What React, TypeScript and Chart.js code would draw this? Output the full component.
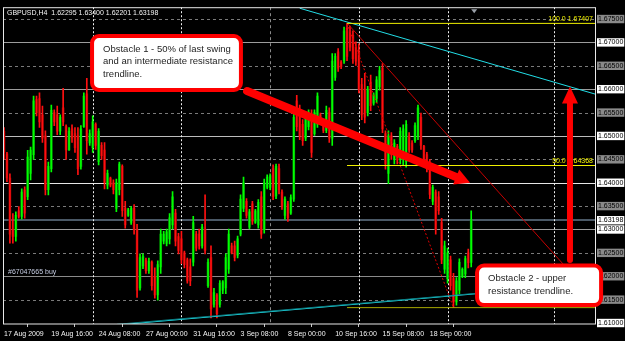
import React, { useEffect, useRef } from 'react';
import { Chart, registerables } from 'chart.js';

Chart.register(...registerables);

// ---------- DATA ----------
const symbolName = 'GBPUSD,H4';

const candleOpen = [
  1.6510, 1.6462, 1.6410, 1.6300, 1.6285, 1.6340, 1.6328, 1.6385, 1.6370, 1.6420,
  1.6460, 1.6578, 1.6580, 1.6545, 1.6500, 1.6385, 1.6430, 1.6550, 1.6545, 1.6510,
  1.6560, 1.6520, 1.6470, 1.6515, 1.6505, 1.6500, 1.6435, 1.6520, 1.6590, 1.6485,
  1.6475, 1.6525, 1.6445, 1.6480, 1.6470, 1.6395, 1.6410, 1.6400, 1.6345, 1.6385,
  1.6435, 1.6345, 1.6330, 1.6315, 1.6345, 1.6300, 1.6175, 1.6222, 1.6235, 1.6212,
  1.6230, 1.6200, 1.6160, 1.6220, 1.6275, 1.6270, 1.6280, 1.6310, 1.6335, 1.6285,
  1.6280, 1.6250, 1.6235, 1.6220, 1.6230, 1.6290, 1.6290, 1.6265, 1.6300, 1.6180,
  1.6240, 1.6140, 1.6160, 1.6140, 1.6170, 1.6175, 1.6215, 1.6265, 1.6265, 1.6245,
  1.6290, 1.6345, 1.6360, 1.6305, 1.6355, 1.6315, 1.6310, 1.6370, 1.6300, 1.6390,
  1.6390, 1.6430, 1.6372, 1.6430, 1.6380, 1.6330, 1.6355, 1.6335, 1.6365, 1.6575,
  1.6545, 1.6525, 1.6495, 1.6520, 1.6545, 1.6505, 1.6525, 1.6545, 1.6530, 1.6512,
  1.6550, 1.6495, 1.6625, 1.6680, 1.6658, 1.6660, 1.6730, 1.6725, 1.6715, 1.6690,
  1.6680, 1.6610, 1.6600, 1.6550, 1.6615, 1.6570, 1.6580, 1.6605, 1.6645, 1.6505,
  1.6420, 1.6500, 1.6450, 1.6478, 1.6450, 1.6450, 1.6445, 1.6500, 1.6485, 1.6490,
  1.6500, 1.6540, 1.6478, 1.6460, 1.6440, 1.6360, 1.6380, 1.6370, 1.6315, 1.6215,
  1.6195, 1.6235, 1.6195, 1.6145, 1.6170, 1.6200, 1.6205, 1.6250, 1.62295,
];

const candleHigh = [
  1.6518, 1.6465, 1.6419, 1.6334, 1.6338, 1.6349, 1.6387, 1.6391, 1.6469, 1.6476,
  1.6585, 1.6585, 1.6592, 1.6564, 1.6511, 1.6444, 1.6566, 1.6556, 1.6564, 1.6545,
  1.6602, 1.6524, 1.6518, 1.6524, 1.6518, 1.6518, 1.6522, 1.6592, 1.6623, 1.6513,
  1.6543, 1.6528, 1.6516, 1.6486, 1.6486, 1.6427, 1.6412, 1.6406, 1.6408, 1.6444,
  1.6438, 1.6360, 1.6345, 1.6349, 1.6353, 1.6311, 1.6248, 1.6248, 1.6239, 1.6239,
  1.6233, 1.6218, 1.6233, 1.6301, 1.6296, 1.6301, 1.6334, 1.6381, 1.6343, 1.6292,
  1.6296, 1.6254, 1.6239, 1.6237, 1.6328, 1.6296, 1.6301, 1.6311, 1.6374, 1.6237,
  1.6265, 1.6174, 1.6163, 1.6191, 1.6191, 1.6248, 1.6301, 1.6271, 1.6275, 1.6286,
  1.6374, 1.6412, 1.6366, 1.6343, 1.6360, 1.6343, 1.6364, 1.6381, 1.6408, 1.6417,
  1.6419, 1.6438, 1.6440, 1.6440, 1.6385, 1.6370, 1.6360, 1.6374, 1.6549, 1.6587,
  1.6566, 1.6535, 1.6549, 1.6556, 1.6556, 1.6556, 1.6592, 1.6549, 1.6535, 1.6564,
  1.6560, 1.6676, 1.6676, 1.6687, 1.6661, 1.6733, 1.67407, 1.6735, 1.6725, 1.6701,
  1.6697, 1.6623, 1.6634, 1.6606, 1.6630, 1.6592, 1.6627, 1.6649, 1.6655, 1.6511,
  1.6511, 1.6507, 1.6492, 1.6482, 1.6518, 1.6524, 1.6533, 1.6507, 1.6490, 1.6528,
  1.6566, 1.6549, 1.6480, 1.6465, 1.6450, 1.6395, 1.6385, 1.6381, 1.6324, 1.6275,
  1.6260, 1.6243, 1.6206, 1.6197, 1.6237, 1.6218, 1.6243, 1.6258, 1.63400,
];

const candleLow = [
  1.6450, 1.6402, 1.6271, 1.6271, 1.6275, 1.6324, 1.6322, 1.6324, 1.6364, 1.6406,
  1.6450, 1.6543, 1.6518, 1.6486, 1.6374, 1.6374, 1.6423, 1.6522, 1.6503, 1.6503,
  1.6522, 1.6450, 1.6469, 1.6486, 1.6465, 1.6417, 1.6429, 1.6518, 1.6461, 1.6480,
  1.6465, 1.6471, 1.6438, 1.6450, 1.6387, 1.6387, 1.6391, 1.6376, 1.6338, 1.6374,
  1.6328, 1.6303, 1.6328, 1.6311, 1.6290, 1.6155, 1.6170, 1.6216, 1.6206, 1.6206,
  1.6170, 1.6153, 1.6149, 1.6206, 1.6269, 1.6265, 1.6269, 1.6301, 1.6265, 1.6248,
  1.6227, 1.6218, 1.6185, 1.6180, 1.6222, 1.6254, 1.6258, 1.6260, 1.6248, 1.6176,
  1.6111, 1.6134, 1.6111, 1.6134, 1.6163, 1.6163, 1.6206, 1.6248, 1.6233, 1.6239,
  1.6286, 1.6338, 1.6324, 1.6301, 1.6311, 1.6313, 1.6303, 1.6281, 1.6292, 1.6387,
  1.6385, 1.6364, 1.6366, 1.6376, 1.6343, 1.6322, 1.6317, 1.6332, 1.6360, 1.6511,
  1.6492, 1.6480, 1.6490, 1.6513, 1.6454, 1.6501, 1.6518, 1.6528, 1.6507, 1.6507,
  1.6486, 1.6480, 1.6619, 1.6638, 1.6644, 1.6655, 1.6661, 1.6682, 1.6655, 1.6651,
  1.6592, 1.6535, 1.6528, 1.6543, 1.6554, 1.6566, 1.6571, 1.6598, 1.6507, 1.6429,
  1.6398, 1.6450, 1.6440, 1.6440, 1.6440, 1.6438, 1.6433, 1.6465, 1.6465, 1.6486,
  1.6492, 1.6471, 1.6444, 1.6423, 1.6366, 1.6353, 1.6290, 1.6332, 1.6227, 1.6206,
  1.6185, 1.6170, 1.61329, 1.6138, 1.6163, 1.6197, 1.6197, 1.6218, 1.62201,
];

const candleClose = [
  1.6465, 1.6410, 1.6290, 1.6285, 1.6330, 1.6328, 1.6380, 1.6335, 1.6455, 1.6470,
  1.6575, 1.6550, 1.6530, 1.6495, 1.6385, 1.6435, 1.6555, 1.6530, 1.6510, 1.6540,
  1.6530, 1.6470, 1.6510, 1.6495, 1.6475, 1.6430, 1.6515, 1.6585, 1.6490, 1.6505,
  1.6530, 1.6480, 1.6510, 1.6458, 1.6400, 1.6420, 1.6395, 1.6385, 1.6400, 1.6440,
  1.6340, 1.6310, 1.6342, 1.6345, 1.6300, 1.6170, 1.6240, 1.6242, 1.6212, 1.6232,
  1.6180, 1.6160, 1.6225, 1.6290, 1.6290, 1.6295, 1.6325, 1.6370, 1.6275, 1.6255,
  1.6235, 1.6225, 1.6190, 1.6190, 1.6315, 1.6260, 1.6265, 1.6305, 1.6255, 1.6230,
  1.6130, 1.6165, 1.6120, 1.6185, 1.6188, 1.6240, 1.6290, 1.6250, 1.6240, 1.6280,
  1.6365, 1.6400, 1.6330, 1.6338, 1.6318, 1.6340, 1.6358, 1.6290, 1.6400, 1.6412,
  1.6415, 1.6370, 1.6435, 1.6385, 1.6350, 1.6365, 1.6325, 1.6368, 1.6540, 1.6520,
  1.6500, 1.6490, 1.6540, 1.6550, 1.6465, 1.6550, 1.6585, 1.6532, 1.6512, 1.6555,
  1.6495, 1.6660, 1.6670, 1.6645, 1.6648, 1.6725, 1.6670, 1.6690, 1.6665, 1.6660,
  1.6600, 1.6545, 1.6540, 1.6600, 1.6565, 1.6588, 1.6620, 1.6640, 1.6515, 1.6440,
  1.6500, 1.6460, 1.6485, 1.6450, 1.6510, 1.6515, 1.6525, 1.6470, 1.6470, 1.6522,
  1.6560, 1.6480, 1.6450, 1.6430, 1.6375, 1.6390, 1.6300, 1.6340, 1.6235, 1.6265,
  1.6250, 1.6180, 1.6145, 1.6190, 1.6230, 1.6215, 1.6238, 1.6229, 1.63198,
];

// time axis labels (one every 16 H4 bars)
const timeLabels = [
  '17 Aug 2009', '19 Aug 16:00', '24 Aug 08:00', '27 Aug 00:00', '31 Aug 16:00',
  '3 Sep 08:00', '8 Sep 00:00', '10 Sep 16:00', '15 Sep 08:00', '18 Sep 00:00',
];
const timeLabelBars = [0, 16, 32, 48, 64, 80, 96, 112, 128, 144];

// price axis
const priceTicks = [
  1.610, 1.615, 1.620, 1.625, 1.630, 1.635, 1.640, 1.645,
  1.650, 1.655, 1.660, 1.665, 1.670, 1.675,
];
const bidPrice = 1.63198;

// horizontal level lines and their style keys
const levelPrices = [1.675, 1.670, 1.665, 1.660, 1.655, 1.650, 1.645, 1.640, 1.635, 1.630, 1.625, 1.620, 1.615];
const levelKinds = ['dash', 'grey', 'dash', 'grey', 'dash', 'light', 'dash', 'white', 'dash', 'grey', 'dash', 'dim', 'dash'];

// vertical (week separator) lines
const weekBars = [30, 60, 90, 120, 150, 186];
const weekKinds = ['dot', 'dot', 'dash', 'dot', 'dot', 'dot'];

// Fibonacci retracement anchors
const fibBars = [116, 152];
const fibPrices = [1.67407, 1.61329];

// trend lines [bar, price]
const upperCyanBars = [100, 199.9];
const upperCyanPrices = [1.67731, 1.65895];
const lowerCyanBars = [38.2, 161];
const lowerCyanPrices = [1.60958, 1.61633];
const lowerTealBars = [38.2, 161];
const lowerTealPrices = [1.60972, 1.61642];
const redTrendBars = [116.3, 189];
const redTrendPrices = [1.67393, 1.62266];

// annotations
const note1Lines = ['Obstacle 1 - 50% of last swing', 'and an intermediate resistance', 'trendline.'];
const note1Bars = [29.1, 80.8];
const note1Prices = [1.6718, 1.6594];
const note2Lines = ['Obstacle 2 - upper', 'resistance trendline.'];
const note2Bars = [159.3, 202.6];
const note2Prices = [1.6227, 1.6134];
const arrow1Bars = [82.2, 157.6];
const arrow1Prices = [1.6596, 1.6400];
const arrow2Bars = [191.4, 191.4];
const arrow2Prices = [1.6235, 1.6606];
const orderLabel = '#67047665 buy';
const orderPrice = 1.6200;

// ---------- STYLE ----------
const X_MIN = -0.338;
const X_MAX = 199.86;
const Y_MIN = 1.60979;
const Y_MAX = 1.67753;
const SMALL = "'Liberation Sans', Arial, sans-serif";
const SMALL_SIZE = 7;
const SANS = "'Liberation Sans', Arial, sans-serif";

const LEVEL_STYLE: Record<string, { color: string; width: number; dash: number[] }> = {
  dash: { color: '#7a7a7a', width: 1, dash: [3, 3] },
  grey: { color: '#9c9c9c', width: 1, dash: [] },
  light: { color: '#bcbcbc', width: 1, dash: [] },
  white: { color: '#e6e6e6', width: 1, dash: [] },
  dim: { color: '#8a8a8a', width: 1, dash: [] },
};
const WEEK_STYLE: Record<string, { color: string; dash: number[] }> = {
  dot: { color: '#f0f0f0', dash: [2, 2] },
  dash: { color: '#8a8a8a', dash: [3, 3] },
};

const whiteLabelPrices = [1.670, 1.660, 1.650, 1.640, 1.630, 1.610, bidPrice];

function roundRectPath(ctx: CanvasRenderingContext2D, x: number, y: number, w: number, h: number, r: number) {
  ctx.beginPath();
  ctx.moveTo(x + r, y);
  ctx.arcTo(x + w, y, x + w, y + h, r);
  ctx.arcTo(x + w, y + h, x, y + h, r);
  ctx.arcTo(x, y + h, x, y, r);
  ctx.arcTo(x, y, x + w, y, r);
  ctx.closePath();
}

function drawArrow(ctx: CanvasRenderingContext2D, x0: number, y0: number, x1: number, y1: number,
  shaft: number, headLen: number, headHalf: number, color: string) {
  const dx = x1 - x0, dy = y1 - y0;
  const len = Math.hypot(dx, dy);
  const ux = dx / len, uy = dy / len;
  const bx = x1 - ux * headLen, by = y1 - uy * headLen;
  ctx.strokeStyle = color;
  ctx.lineWidth = shaft;
  ctx.lineCap = 'round';
  ctx.setLineDash([]);
  ctx.beginPath();
  ctx.moveTo(x0, y0);
  ctx.lineTo(bx + ux * 2, by + uy * 2);
  ctx.stroke();
  ctx.fillStyle = color;
  ctx.beginPath();
  ctx.moveTo(x1, y1);
  ctx.lineTo(bx - uy * headHalf, by + ux * headHalf);
  ctx.lineTo(bx + uy * headHalf, by - ux * headHalf);
  ctx.closePath();
  ctx.fill();
}

const overlayPlugin = {
  id: 'mtOverlay',
  beforeDatasetsDraw(chart: any) {
    const { ctx, chartArea: a, scales } = chart;
    const xs = scales.x, ys = scales.y;
    ctx.save();
    ctx.beginPath();
    ctx.rect(a.left, a.top, a.right - a.left, a.bottom - a.top);
    ctx.clip();
    levelPrices.forEach((p, i) => {
      const st = LEVEL_STYLE[levelKinds[i]];
      const yy = Math.round(ys.getPixelForValue(p)) + 0.5;
      ctx.strokeStyle = st.color;
      ctx.lineWidth = st.width;
      ctx.setLineDash(st.dash);
      ctx.beginPath();
      ctx.moveTo(a.left, yy);
      ctx.lineTo(a.right, yy);
      ctx.stroke();
    });
    // bid line
    {
      const yy = Math.round(ys.getPixelForValue(bidPrice));
      ctx.strokeStyle = '#4a5866';
      ctx.lineWidth = 2;
      ctx.setLineDash([]);
      ctx.beginPath();
      ctx.moveTo(a.left, yy);
      ctx.lineTo(a.right, yy);
      ctx.stroke();
    }
    weekBars.forEach((b, i) => {
      const st = WEEK_STYLE[weekKinds[i]];
      const xx = Math.round(xs.getPixelForValue(b)) + 0.5;
      ctx.strokeStyle = st.color;
      ctx.lineWidth = 1;
      ctx.setLineDash(st.dash);
      ctx.beginPath();
      ctx.moveTo(xx, a.top);
      ctx.lineTo(xx, a.bottom);
      ctx.stroke();
    });
    ctx.restore();
  },
  afterDraw(chart: any) {
    const { ctx, chartArea: a, scales } = chart;
    const xs = scales.x, ys = scales.y;
    const px = (b: number) => xs.getPixelForValue(b);
    const py = (p: number) => ys.getPixelForValue(p);
    ctx.save();
    // frame
    ctx.strokeStyle = '#e8e8e8';
    ctx.lineWidth = 1;
    ctx.setLineDash([]);
    ctx.strokeRect(a.left + 0.5, a.top + 0.5, a.right - a.left, a.bottom - a.top - 0.5);

    // header
    const last = candleClose.length - 1;
    const header = `${symbolName}  ${candleOpen[last].toFixed(5)} ${candleHigh[last].toFixed(5)} ${candleLow[last].toFixed(5)} ${candleClose[last].toFixed(5)}`;
    ctx.font = `${SMALL_SIZE}px ${SMALL}`;
    ctx.fillStyle = '#f4f4f4';
    ctx.textAlign = 'left';
    ctx.textBaseline = 'middle';
    ctx.fillText(header, a.left + 4, a.top + 6);

    // fib labels
    ctx.fillStyle = '#f2f200';
    ctx.textAlign = 'right';
    ctx.textBaseline = 'bottom';
    const fibMid = (fibPrices[0] + fibPrices[1]) / 2;
    ctx.fillText(`100.0 ${fibPrices[0].toFixed(5)}`, a.right - 2, py(fibPrices[0]) - 1);
    ctx.fillText(`50.0 ${fibMid.toFixed(5)}`, a.right - 2, py(fibMid) - 1);
    ctx.fillText(`0.0 ${fibPrices[1].toFixed(5)}`, a.right - 2, py(fibPrices[1]) - 1);

    // order label
    ctx.fillStyle = '#c4cbe0';
    ctx.textAlign = 'left';
    ctx.textBaseline = 'bottom';
    ctx.fillText(orderLabel, a.left + 5, py(orderPrice) - 1);

    // shift marker
    {
      const tx = px(last + 1);
      ctx.fillStyle = '#9aa0a8';
      ctx.beginPath();
      ctx.moveTo(tx - 3, a.top + 2);
      ctx.lineTo(tx + 3, a.top + 2);
      ctx.lineTo(tx, a.top + 6);
      ctx.closePath();
      ctx.fill();
    }

    // arrows
    drawArrow(ctx, px(arrow1Bars[0]), py(arrow1Prices[0]), px(arrow1Bars[1]), py(arrow1Prices[1]), 8, 15, 8, '#ff0000');
    drawArrow(ctx, px(arrow2Bars[0]), py(arrow2Prices[0]), px(arrow2Bars[1]), py(arrow2Prices[1]), 6, 17, 8, '#ff0000');

    // note boxes
    const drawNote = (bars: number[], prices: number[], lines: string[], lineGap: number) => {
      const x0 = px(bars[0]), x1 = px(bars[1]);
      const y0 = py(prices[0]), y1 = py(prices[1]);
      roundRectPath(ctx, x0 + 2, y0 + 2, x1 - x0 - 4, y1 - y0 - 4, 7);
      ctx.fillStyle = '#ffffff';
      ctx.fill();
      ctx.strokeStyle = '#ff0000';
      ctx.lineWidth = 4;
      ctx.stroke();
      ctx.fillStyle = '#1e1e1e';
      ctx.font = `9.5px ${SANS}`;
      ctx.textAlign = 'left';
      ctx.textBaseline = 'middle';
      lines.forEach((t, i) => {
        ctx.fillText(t, x0 + 13, y0 + 15 + i * lineGap);
      });
    };
    drawNote(note1Bars, note1Prices, note1Lines, 12.5);
    drawNote(note2Bars, note2Prices, note2Lines, 13);
    ctx.restore();
  },
};

function buildCandles() {
  const bull = candleClose.map((c, i) => c >= candleOpen[i]);
  const wicks = candleHigh.map((h, i) => ({ x: i, y: [candleLow[i], h] }));
  const bodies = candleOpen.map((o, i) => ({ x: i, y: [o, candleClose[i]] }));
  return {
    wick: {
      type: 'bar', data: wicks, barThickness: 1, grouped: false, order: 1,
      backgroundColor: bull.map((b) => (b ? '#00ff00' : '#ff1010')),
      borderWidth: 0,
    },
    body: {
      type: 'bar', data: bodies, barThickness: 2, grouped: false, order: 2, minBarLength: 1,
      backgroundColor: bull.map((b) => (b ? '#008c00' : '#8e0000')),
      borderWidth: 0,
    },
  };
}

function lineSet(bars: number[], prices: number[], color: string, width: number, dash: number[], order: number) {
  return {
    type: 'line',
    data: bars.map((b, i) => ({ x: b, y: prices[i] })),
    borderColor: color,
    borderWidth: width,
    borderDash: dash,
    pointRadius: 0,
    fill: false,
    tension: 0,
    order,
  };
}

export default function App() {
  const ref = useRef<HTMLCanvasElement | null>(null);
  useEffect(() => {
    document.body.style.margin = '0';
    document.body.style.background = '#000';
    const canvas = ref.current;
    if (!canvas) return;
    const { wick, body } = buildCandles();
    const fibMid = (fibPrices[0] + fibPrices[1]) / 2;
    const datasets: any[] = [
      lineSet([fibBars[0], X_MAX], [fibPrices[0], fibPrices[0]], '#f0f000', 1, [], 0),
      lineSet([fibBars[0], X_MAX], [fibMid, fibMid], '#f0f000', 1, [], 0),
      lineSet([fibBars[0], X_MAX], [fibPrices[1], fibPrices[1]], '#a8a800', 1, [], 0),
      lineSet(fibBars, fibPrices, '#e00000', 1, [2, 2], 0),
      lineSet(redTrendBars, redTrendPrices, '#c80000', 1, [], 0),
      lineSet(upperCyanBars, upperCyanPrices, '#22dde6', 1, [], 0),
      lineSet(lowerTealBars, lowerTealPrices, '#0d7f85', 1, [], 0),
      lineSet(lowerCyanBars, lowerCyanPrices, '#22e4ee', 1, [], 0),
      wick,
      body,
    ];
    const chart = new Chart(canvas, {
      type: 'bar',
      data: { datasets },
      options: {
        animation: false,
        responsive: false,
        maintainAspectRatio: false,
        events: [],
        layout: { padding: { left: 3, top: 3, right: 0, bottom: 0 } },
        plugins: { legend: { display: false }, tooltip: { enabled: false } },
        scales: {
          x: {
            type: 'linear',
            min: X_MIN,
            max: X_MAX,
            offset: false,
            grid: { display: true, drawOnChartArea: false, drawTicks: true, tickLength: 3, color: '#c8c8c8' },
            border: { display: false },
            afterBuildTicks: (s: any) => { s.ticks = timeLabelBars.map((v) => ({ value: v })); },
            afterFit: (s: any) => { s.height = 17; },
            ticks: {
              autoSkip: false,
              maxRotation: 0,
              minRotation: 0,
              align: 'start',
              padding: 3,
              color: '#f4f4f4',
              font: { family: SMALL, size: SMALL_SIZE },
              callback: (v: any) => {
                const k = timeLabelBars.indexOf(Number(v));
                return k >= 0 ? timeLabels[k] : '';
              },
            },
          },
          y: {
            type: 'linear',
            position: 'right',
            min: Y_MIN,
            max: Y_MAX,
            grid: { display: false, drawTicks: false },
            border: { display: false },
            afterBuildTicks: (s: any) => { s.ticks = [...priceTicks, bidPrice].map((v) => ({ value: v })); },
            afterFit: (s: any) => { s.width = 30; },
            ticks: {
              autoSkip: false,
              padding: 3,
              color: '#000000',
              font: { family: SMALL, size: SMALL_SIZE },
              showLabelBackdrop: true,
              backdropPadding: { top: 0, bottom: 0, left: 1, right: 1 },
              backdropColor: (ctx: any) => {
                const v = ctx.tick ? ctx.tick.value : 0;
                return whiteLabelPrices.some((p) => Math.abs(p - v) < 1e-6) ? '#ffffff' : '#8a8a8a';
              },
              callback: (v: any) => Number(v).toFixed(5),
            },
          },
        },
      },
      plugins: [overlayPlugin],
    } as any);
    return () => chart.destroy();
  }, []);
  return (
    <div style={{ width: 625, height: 341, background: '#000' }}>
      <canvas ref={ref} width={625} height={341} style={{ width: 625, height: 341, display: 'block' }} />
    </div>
  );
}
